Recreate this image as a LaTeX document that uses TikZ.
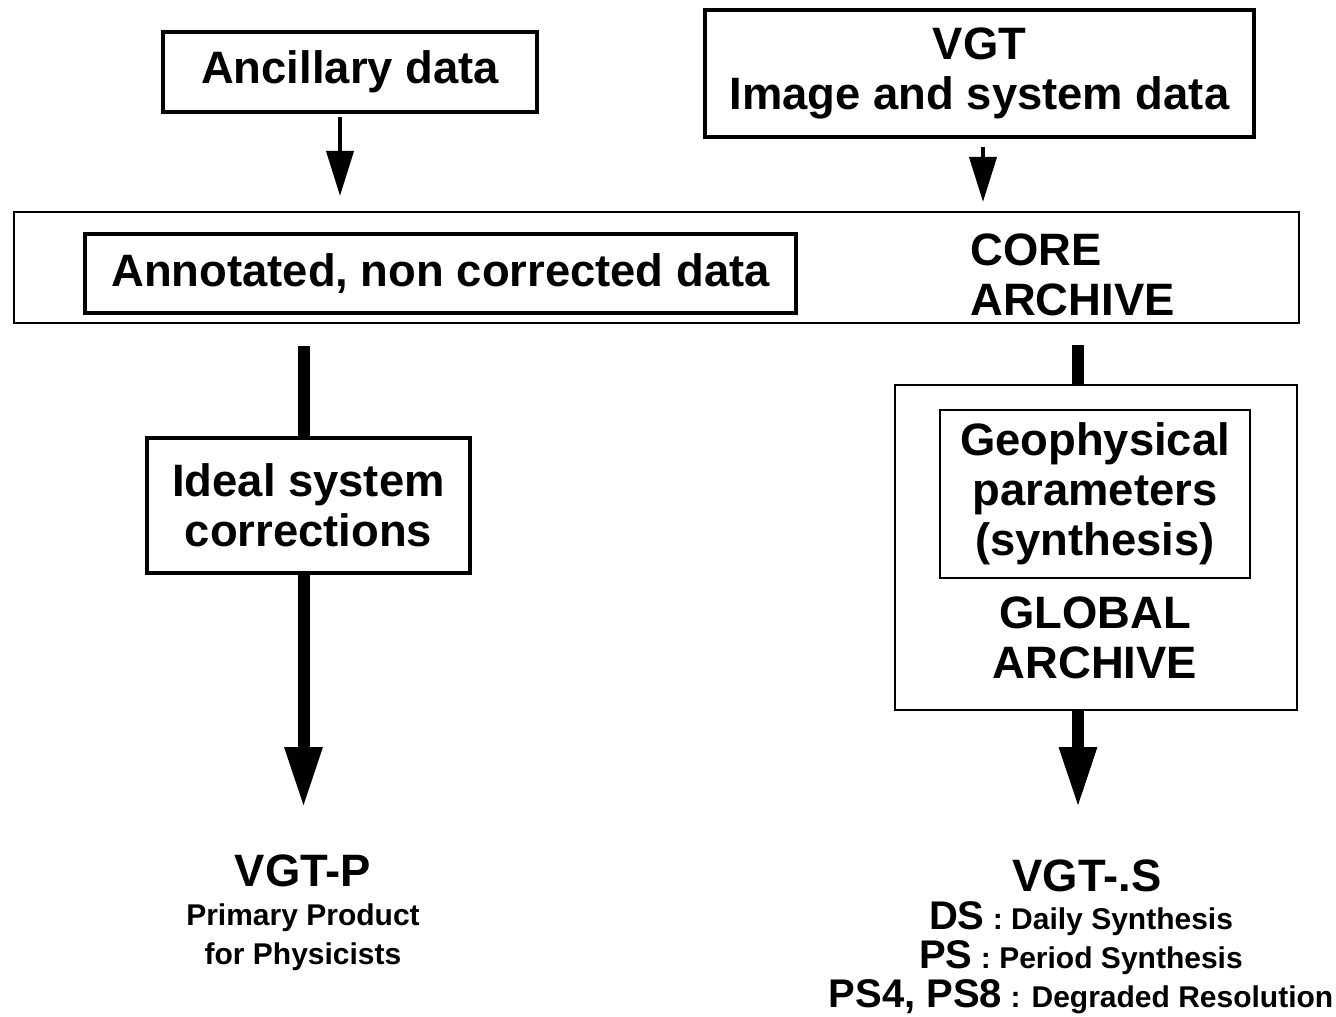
\documentclass[tikz,border=0pt]{standalone}
\usepackage{fontspec}
\setmainfont{Liberation Sans}
\usetikzlibrary{arrows.meta}
\newcommand{\mainfs}{\fontsize{22.7}{25}\selectfont\bfseries}
\newcommand{\notefs}{\fontsize{15}{19.5}\selectfont\bfseries}
\newcommand{\codefs}{\fontsize{20}{20}\selectfont\bfseries}

\begin{document}
\begin{tikzpicture}[
  x=0.5pt, y=-0.5pt,
  databox/.style={draw, line width=1.6pt, inner sep=0pt, align=center, font=\mainfs},
  archive/.style={draw, line width=1.1pt, inner sep=0pt},
  heading/.style={inner sep=0pt, align=center, font=\mainfs},
  thinarrow/.style={line width=2pt, -{Triangle[length=22.5pt, width=13.5pt]}},
  thickline/.style={line width=6pt},
  thickarrow/.style={line width=6pt, -{Triangle[length=30.5pt, width=17.5pt]}}
]
\useasboundingbox (0,0) rectangle (1336,1016);
\node[archive, minimum width=642.5pt, minimum height=55.5pt] (core) at (656.5,267.5) {};
\node[databox, minimum width=187pt, minimum height=40pt] (anc) at (350,72) {Ancillary data};
\node[databox, minimum width=274.5pt, minimum height=63.5pt] (vgt) at (979.5,73.5) {VGT\\Image and system data};
\node[databox, line width=2pt, minimum width=355.5pt, minimum height=39.5pt] (annot) at (440.5,273.5) {Annotated, non corrected data};
\node[heading, anchor=west, align=left] (corelbl) at (970,275) {CORE\\ARCHIVE};
\node[databox, minimum width=161.5pt, minimum height=67.5pt] (ideal) at (308.5,505.5) {Ideal system\\corrections};
\node[archive, minimum width=201pt, minimum height=162.5pt] (global) at (1096,547.5) {};
\node[databox, line width=1.2pt, minimum width=155pt, minimum height=84pt] (geo) at (1095,494) {Geophysical\\parameters\\(synthesis)};
\node[heading] (globallbl) at (1095,637.5) {GLOBAL\\ARCHIVE};
\node[heading, anchor=base] (vgtp) at (303,886) {VGT-P};
\node[anchor=base, inner sep=0pt, align=center, font=\notefs] (vgtpnote) at (303,964) {Primary Product\\for Physicists};
\node[heading, anchor=base] (vgts) at (1087,891) {VGT-.S};
\node[anchor=base, inner sep=0pt, align=center, font=\notefs] (vgtsnote) at (1081,1007) {{\codefs DS} : Daily Synthesis\\{\codefs PS} : Period Synthesis\\{\codefs PS4, PS8} : Degraded Resolution};
\coordinate (ptip) at (303.5,808);
\coordinate (stip) at (1078,808);

\draw[thinarrow, shorten <=1.5pt, shorten >=7.5pt] ([xshift=-5pt]anc.south) -- ([xshift=-5pt]anc.south |- core.north);
\draw[thinarrow, shorten <=4pt, shorten >=4.5pt] ([xshift=1.75pt]vgt.south) -- ([xshift=1.75pt]vgt.south |- core.north);
\draw[thickline, shorten <=11pt] ([xshift=-2.5pt]ideal.north |- core.south) -- ([xshift=-2.5pt]ideal.north);
\draw[thickarrow] ([xshift=-2.5pt]ideal.south) -- (ptip);
\draw[thickline, shorten <=10.5pt] ([xshift=-9pt]global.north |- core.south) -- ([xshift=-9pt]global.north);
\draw[thickarrow] ([xshift=-9pt]global.south) -- (stip);
\end{tikzpicture}
\end{document}
